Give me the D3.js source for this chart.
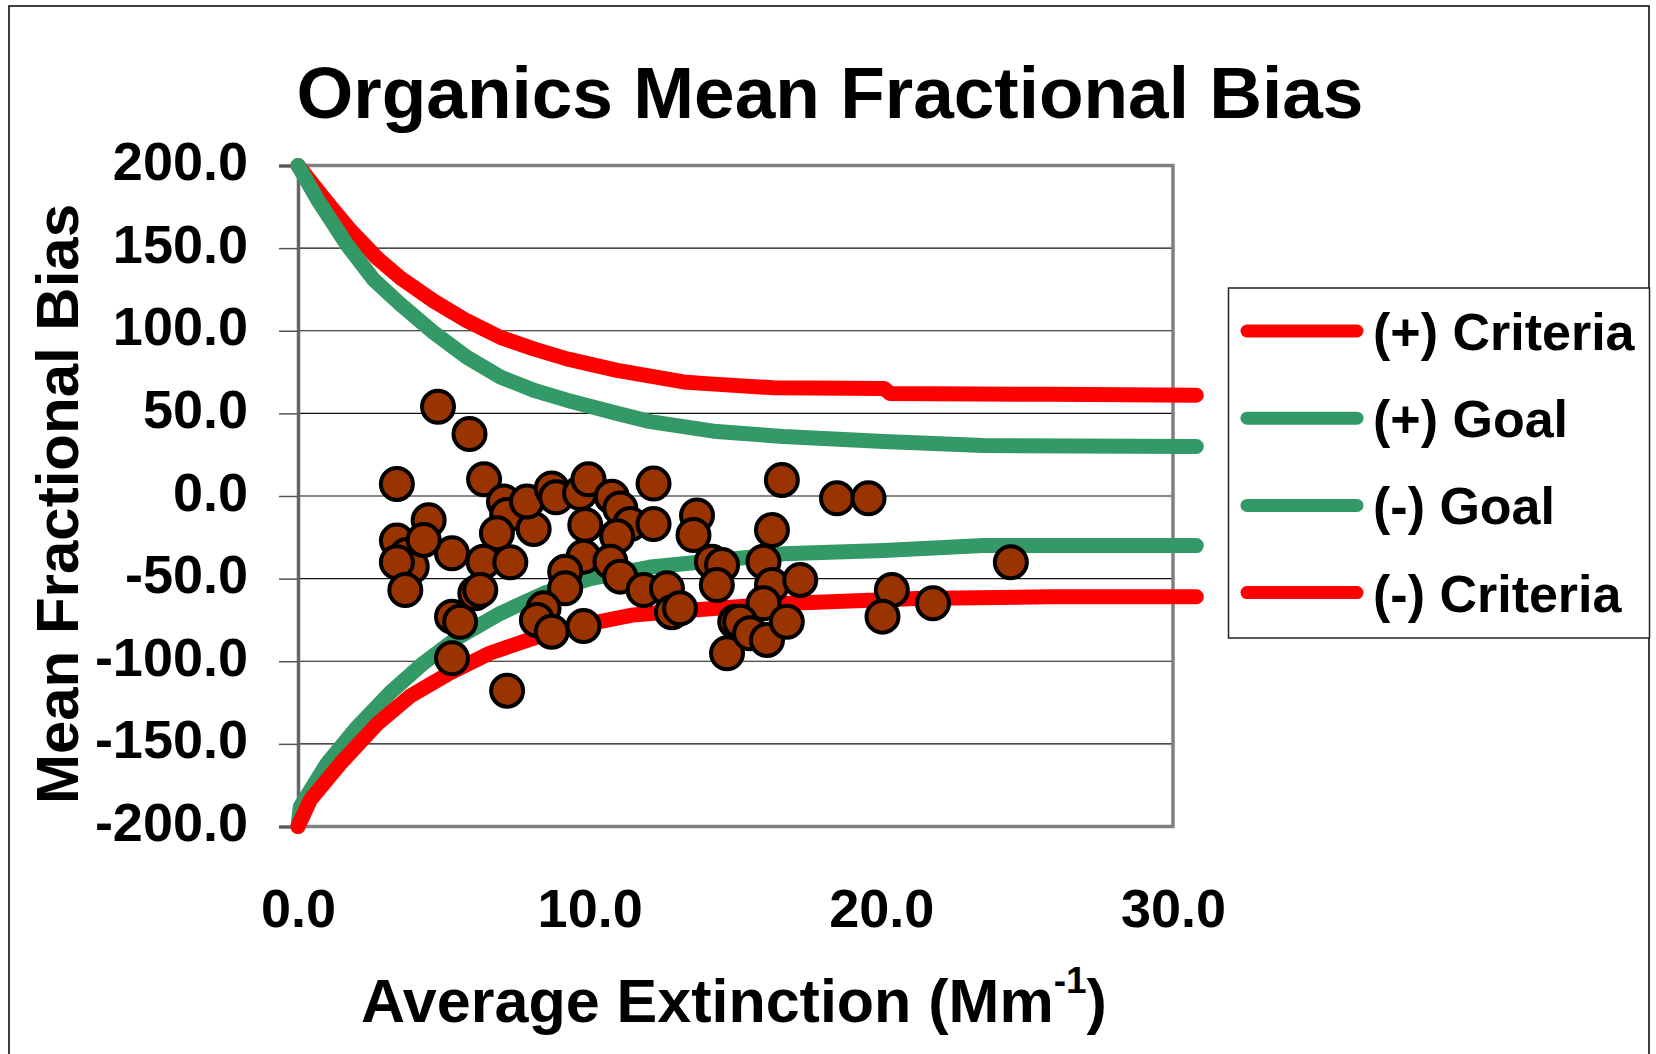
<!DOCTYPE html>
<html>
<head>
<meta charset="utf-8">
<script src="https://cdn.jsdelivr.net/npm/d3@7"></script>
<style>
  body { margin: 0; background: #fff; }
  text { font-family: "Liberation Sans", Arial, sans-serif; font-weight: bold; fill: #000; }
</style>
</head>
<body>
<div id="chart"></div>
<script>
// tick values of both axes
var xTicks = [0, 10, 20, 30];
var yTicks = [-200, -150, -100, -50, 0, 50, 100, 150, 200];

// observed points: average extinction (Mm-1) and mean fractional bias (%)
var extinction = [4.80, 5.88, 3.39, 6.38, 7.06, 7.17, 6.82, 8.08, 7.85, 8.70, 8.85, 9.67, 9.96,
  10.76, 11.05, 11.39, 12.19, 12.19, 9.85, 10.94, 13.68, 13.56, 4.48, 3.39, 5.28, 3.73, 3.90,
  3.39, 4.31, 3.68, 6.36, 7.28, 9.79, 9.16, 9.16, 8.42, 8.19, 8.70, 9.79, 10.71, 11.05, 11.85,
  12.65, 12.82, 13.10, 5.28, 5.28, 5.56, 6.08, 6.25, 7.17, 16.59, 18.48, 19.56, 16.25, 14.19,
  14.54, 14.36, 15.96, 16.25, 17.22, 15.96, 14.71, 14.99, 15.16, 15.50, 16.08, 16.76, 20.36,
  20.04, 21.77, 24.44];
var bias = [54.0, 37.5, 7.3, 10.1, -3.4, -11.5, -22.6, -20.0, -3.4, 4.6, -0.8, 1.8, 10.1,
  -0.4, -7.5, -17.0, 7.5, -17.0, -17.5, -24.4, -11.8, -23.6, -14.7, -27.0, -34.7, -35.7, -42.8,
  -40.1, -26.6, -56.9, -39.8, -40.1, -36.7, -45.8, -55.9, -68.0, -75.0, -82.1, -78.7, -39.8, -48.8, -56.9,
  -55.9, -70.3, -68.0, -98.2, -73.0, -76.1, -58.9, -56.9, -117.8, 9.7, -1.4, -1.4, -20.6, -39.8,
  -41.8, -53.9, -39.8, -53.9, -50.8, -64.9, -95.2, -76.1, -76.1, -83.1, -87.1, -76.1, -56.9,
  -73.0, -64.9, -40.1];

// performance curves, [extinction, bias]
var plusCriteria = [[0, 200], [0.54, 188], [0.99, 178], [1.79, 161], [2.71, 144], [3.51, 132],
  [4.65, 118], [5.79, 106], [6.94, 96], [8.08, 89], [9.22, 83], [10.94, 76], [13.22, 69],
  [14, 68], [16.3, 65.5], [20.1, 65], [20.3, 62], [25.8, 61.5], [30.8, 61]];
var plusGoal = [[0, 200], [0.65, 180], [1.68, 152], [2.59, 131], [3.51, 116], [4.65, 99],
  [5.79, 84], [6.94, 72], [8.08, 64], [9.22, 58], [10.94, 50], [12.08, 45], [13.22, 42],
  [14.36, 39], [16.65, 36], [20.08, 33], [23.5, 30.5], [30.8, 30]];
var minusGoal = [[0, -200], [0.08, -188], [0.99, -162], [2.02, -140], [3.16, -119], [4.31, -101],
  [5.45, -86], [6.94, -71], [8.42, -59], [10.02, -50], [12.08, -43], [14.36, -39], [16.65, -35],
  [20.08, -33], [23.5, -30], [30.8, -30]];
var minusCriteria = [[0, -200], [0.42, -184], [1.45, -162], [2.71, -138], [3.85, -121],
  [5.22, -107], [6.59, -95], [8.08, -86], [9.79, -78], [11.5, -72], [13.56, -69], [16.65, -65],
  [21.2, -62], [25.8, -61], [30.8, -61]];

var seriesNames = ["(+) Criteria", "(+) Goal", "(-) Goal", "(-) Criteria"];
var seriesColors = ["#ff0000", "#339966", "#339966", "#ff0000"];
var seriesData = [plusCriteria, plusGoal, minusGoal, minusCriteria];

var w = 1656;
var h = 1054;
var plot = { left: 298, right: 1173, top: 165.5, bottom: 826.5 };

var svg = d3.select("#chart")
  .append("svg")
  .attr("width", w)
  .attr("height", h);

svg.append("rect")
  .attr("width", w)
  .attr("height", h)
  .attr("fill", "#fff");

// outer chart frame (bottom edge runs off the picture)
svg.append("rect")
  .attr("x", 9)
  .attr("y", 6)
  .attr("width", 1640)
  .attr("height", 1070)
  .attr("fill", "none")
  .attr("stroke", "#000")
  .attr("stroke-width", 1.5);

var xScale = d3.scaleLinear().domain([0, 30]).range([plot.left, plot.right]);
var yScale = d3.scaleLinear().domain([-200, 200]).range([plot.bottom, plot.top]);

// labels use a plain hyphen for negatives, like the original
var fmt = function (d) { return d.toFixed(1); };

// horizontal gridlines
svg.append("g")
  .selectAll("line")
  .data(yTicks.filter(function (d) { return d > -200 && d < 200; }))
  .enter()
  .append("line")
  .attr("x1", plot.left)
  .attr("x2", plot.right)
  .attr("y1", function (d) { return yScale(d); })
  .attr("y2", function (d) { return yScale(d); })
  .attr("stroke", "#111")
  .attr("stroke-width", 1.2);

// plot area border: top, right, bottom
svg.append("path")
  .attr("d", "M" + plot.left + "," + plot.top + "H" + plot.right + "V" + plot.bottom + "H" + plot.left)
  .attr("fill", "none")
  .attr("stroke", "#808080")
  .attr("stroke-width", 3.5);

// y axis
var yAxis = svg.append("g")
  .attr("transform", "translate(" + plot.left + ",0)")
  .call(d3.axisLeft(yScale)
    .tickValues(yTicks)
    .tickFormat(fmt)
    .tickSize(19)
    .tickPadding(31));
yAxis.select(".domain").attr("stroke", "#666").attr("stroke-width", 3.5);
yAxis.selectAll(".tick line").attr("stroke", "#555").attr("stroke-width", 1.5);
yAxis.selectAll(".tick text")
  .attr("dy", "0.26em")
  .style("font-size", "54px")
  .style("font-family", "'Liberation Sans', Arial, sans-serif")
  .style("font-weight", "bold")
  .attr("fill", "#000");

// x axis (labels only)
var xAxis = svg.append("g")
  .attr("transform", "translate(0," + plot.bottom + ")")
  .call(d3.axisBottom(xScale)
    .tickValues(xTicks)
    .tickFormat(fmt)
    .tickSize(0)
    .tickPadding(62));
xAxis.select(".domain").remove();
xAxis.selectAll(".tick text")
  .style("font-size", "54px")
  .style("font-family", "'Liberation Sans', Arial, sans-serif")
  .style("font-weight", "bold")
  .attr("fill", "#000");

// curves
var line = d3.line()
  .x(function (d) { return xScale(d[0]); })
  .y(function (d) { return yScale(d[1]); });

svg.append("g")
  .selectAll("path")
  .data(seriesData)
  .enter()
  .append("path")
  .attr("d", line)
  .attr("fill", "none")
  .attr("stroke", function (d, i) { return seriesColors[i]; })
  .attr("stroke-width", 15)
  .attr("stroke-linejoin", "round")
  .attr("stroke-linecap", "round");

// observations
svg.append("g")
  .selectAll("circle")
  .data(d3.range(extinction.length))
  .enter()
  .append("circle")
  .attr("cx", function (i) { return xScale(extinction[i]); })
  .attr("cy", function (i) { return yScale(bias[i]); })
  .attr("r", 16)
  .attr("fill", "#993300")
  .attr("stroke", "#000")
  .attr("stroke-width", 4);

// title
svg.append("text")
  .attr("x", 830)
  .attr("y", 118)
  .attr("text-anchor", "middle")
  .style("font-size", "73px")
  .text("Organics Mean Fractional Bias");

// axis titles
svg.append("text")
  .attr("transform", "translate(78,504) rotate(-90)")
  .attr("text-anchor", "middle")
  .style("font-size", "60px")
  .text("Mean Fractional Bias");

var xTitle = svg.append("text")
  .attr("x", 734)
  .attr("y", 1022)
  .attr("text-anchor", "middle")
  .style("font-size", "61px");
xTitle.append("tspan").text("Average Extinction (Mm");
xTitle.append("tspan").attr("dy", -29).style("font-size", "37px").text("-1");
xTitle.append("tspan").attr("dy", 29).text(")");

// legend
var legend = svg.append("g");
legend.append("rect")
  .attr("x", 1228.5)
  .attr("y", 288)
  .attr("width", 421)
  .attr("height", 350)
  .attr("fill", "#fff")
  .attr("stroke", "#222")
  .attr("stroke-width", 1.5);

var items = legend.selectAll("g.item")
  .data(seriesNames)
  .enter()
  .append("g")
  .attr("class", "item")
  .attr("transform", function (d, i) { return "translate(0," + (331 + i * 87.2) + ")"; });

items.append("line")
  .attr("x1", 1247)
  .attr("x2", 1357)
  .attr("stroke", function (d, i) { return seriesColors[i]; })
  .attr("stroke-width", 13)
  .attr("stroke-linecap", "round");

items.append("text")
  .attr("x", 1373)
  .attr("y", 19)
  .style("font-size", "52px")
  .text(function (d) { return d; });
</script>
</body>
</html>
